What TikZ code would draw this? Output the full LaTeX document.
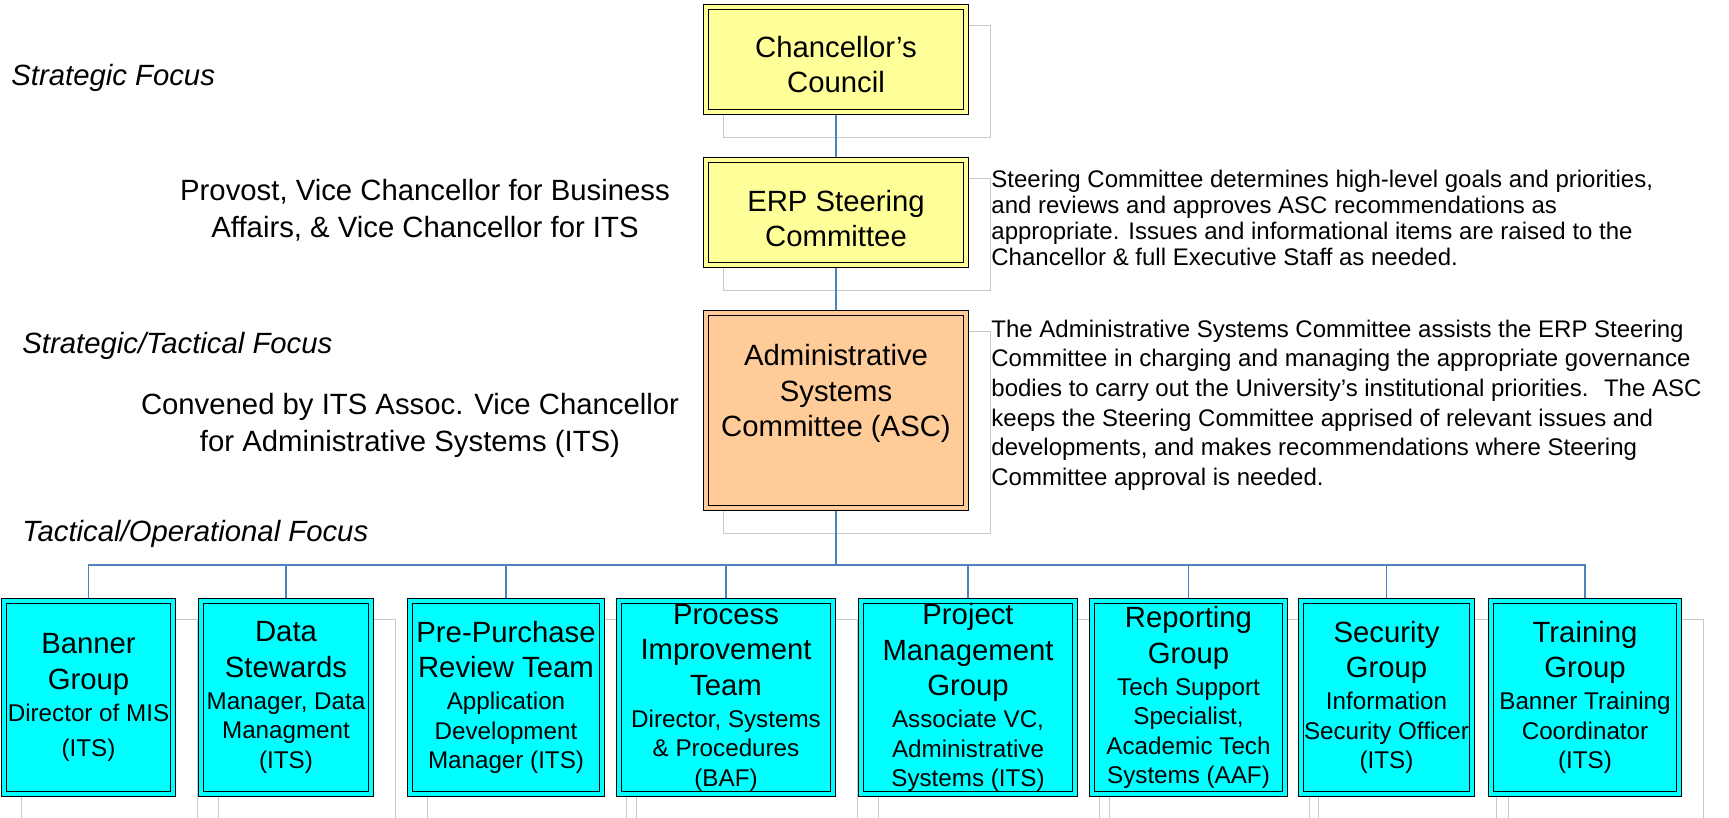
\documentclass[tikz,border=0pt]{standalone}
\usepackage{fontspec}
\setmainfont{Liberation Sans}
\usetikzlibrary{backgrounds}

\definecolor{chanyellow}{RGB}{255,255,153}
\definecolor{ascpeach}{RGB}{255,204,153}
\definecolor{groupcyan}{RGB}{0,255,255}
\definecolor{linkblue}{RGB}{79,129,189}
\definecolor{ghostgray}{RGB}{200,200,200}

\newcommand{\titlefont}{\fontsize{14.65}{17.75}\selectfont}
\newcommand{\subline}[1]{{\fontsize{12.1}{14.75}\selectfont #1}}

\begin{document}
\begin{tikzpicture}[x=0.5pt,y=-0.5pt,
  unit/.style={draw=black,line width=0.7pt,double=#1,double distance=1.6pt,
    fill=#1,inner sep=0pt,align=center,font=\titlefont},
  ghost/.style={draw=ghostgray,line width=0.6pt},
  link/.style={draw=linkblue,line width=0.75pt},
  focus/.style={font=\fontsize{14.65}{18}\selectfont\itshape,inner sep=0pt,anchor=base west},
  who/.style={font=\fontsize{14.65}{18.25}\selectfont,inner sep=0pt,align=center,anchor=north},
  note/.style={font=\fontsize{12}{#1}\selectfont,inner sep=0pt,align=left,anchor=north west}]

\useasboundingbox (0,0) rectangle (1729,818);

% governance chain
\node[unit=chanyellow,minimum width=130pt,minimum height=52.5pt,text height=33.5pt] (chan) at (836,59.5) {Chancellor’s\\Council};
\node[unit=chanyellow,minimum width=130pt,minimum height=52.5pt,text height=34.5pt] (erp) at (836,212.5) {ERP Steering\\Committee};
\node[unit=ascpeach,minimum width=130pt,minimum height=97.5pt,text depth=20pt] (asc) at (836,410.5) {Administrative\\Systems\\Committee (ASC)};

% working groups
\node[unit=groupcyan,minimum width=84.5pt,minimum height=96.5pt] (banner) at (88.5,697.5)
  {Banner\\Group\\[-1.75pt]\subline{Director of MIS}\\\subline{(ITS)}};
\node[unit=groupcyan,minimum width=85pt,minimum height=96.5pt] (data) at (286,697.5)
  {Data\\Stewards\\[-1.75pt]\subline{Manager, Data}\\[-3pt]\subline{Managment}\\[-3pt]\subline{(ITS)}};
\node[unit=groupcyan,minimum width=96pt,minimum height=96.5pt] (prepur) at (506,697.5)
  {Pre-Purchase\\Review Team\\[-1.75pt]\subline{Application}\\[-3pt]\subline{Development}\\[-3pt]\subline{Manager (ITS)}};
\node[unit=groupcyan,minimum width=107pt,minimum height=96.5pt] (process) at (726,697.5)
  {Process\\Improvement\\Team\\[-1.75pt]\subline{Director, Systems}\\[-3pt]\subline{\& Procedures}\\[-3pt]\subline{(BAF)}};
\node[unit=groupcyan,minimum width=107pt,minimum height=96.5pt] (project) at (968,697.5)
  {Project\\Management\\Group\\[-1.75pt]\subline{Associate VC,}\\[-3pt]\subline{Administrative}\\[-3pt]\subline{Systems (ITS)}};
\node[unit=groupcyan,minimum width=96.5pt,minimum height=96.5pt] (report) at (1188.5,697.5)
  {Reporting\\Group\\[-1.75pt]\subline{Tech Support}\\[-3pt]\subline{Specialist,}\\[-3pt]\subline{Academic Tech}\\[-3pt]\subline{Systems (AAF)}};
\node[unit=groupcyan,minimum width=85.5pt,minimum height=96.5pt] (security) at (1386.5,697.5)
  {Security\\Group\\[-1.75pt]\subline{Information}\\[-3pt]\subline{Security Officer}\\[-3pt]\subline{(ITS)}};
\node[unit=groupcyan,minimum width=94pt,minimum height=96.5pt] (training) at (1585,697.5)
  {Training\\Group\\[-1.75pt]\subline{Banner Training}\\[-3pt]\subline{Coordinator}\\[-3pt]\subline{(ITS)}};

% left side labels
\node[focus] (strat) at (11,85.5) {Strategic Focus};
\node[who] (erpwho) at (425,179) {Provost, Vice Chancellor for Business\\Affairs, \& Vice Chancellor for ITS};
\node[focus] (strattac) at (22,353) {Strategic/Tactical Focus};
\node[who] (ascwho) at (410,393) {Convened by ITS Assoc. Vice Chancellor\\for Administrative Systems (ITS)};
\node[focus] (tacop) at (22,541) {Tactical/Operational Focus};

% right side notes
\node[note=13.1] (erpnote) at (991,169.5) {Steering Committee determines high-level goals and priorities,\\
  and reviews and approves ASC recommendations as\\
  appropriate. Issues and informational items are raised to the\\
  Chancellor \& full Executive Staff as needed.};
\node[note=14.8] (ascnote) at (991,319.5) {The Administrative Systems Committee assists the ERP Steering\\
  Committee in charging and managing the appropriate governance\\
  bodies to carry out the University’s institutional priorities.~ The ASC\\
  keeps the Steering Committee apprised of relevant issues and\\
  developments, and makes recommendations where Steering\\
  Committee approval is needed.};

\coordinate (bus) at (836,565);

\begin{scope}[on background layer]
% offset frames behind the boxes
\foreach \n in {chan,erp,asc,banner,data,prepur,process,project,report,security,training}
  \draw[ghost] ([shift={(18,25)}]\n.south west) rectangle ([shift={(24,19)}]\n.north east);
% connectors
\draw[link] (chan) -- (erp);
\draw[link] (erp) -- (asc);
\draw[link] (asc) -- (bus);
\foreach \n in {banner,data,prepur,process,project,report,security,training}
  \draw[link] (bus) -| (\n);
\end{scope}
\end{tikzpicture}
\end{document}
